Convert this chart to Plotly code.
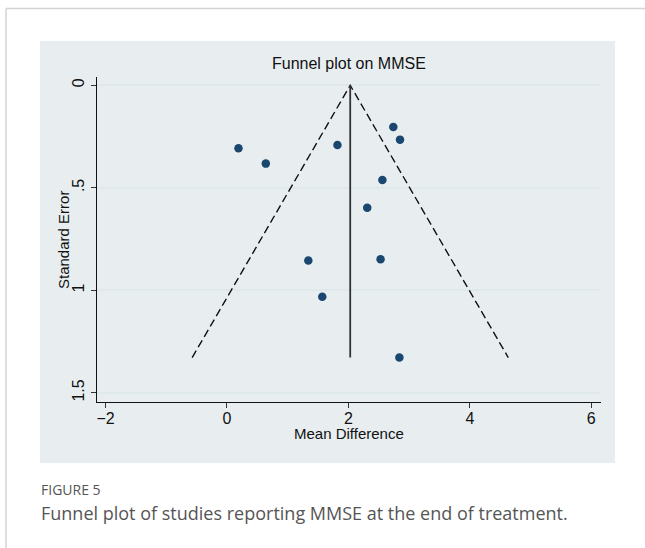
import plotly.graph_objects as go

# Study-level effects (mean difference in MMSE) and their standard errors
mean_diff = [2.74, 2.85, 1.82, 0.19, 0.64, 2.56, 2.31, 1.34, 2.53, 1.57, 2.84]
std_err = [0.203, 0.265, 0.291, 0.307, 0.382, 0.462, 0.597, 0.855, 0.848, 1.031, 1.328]
pooled_md = 2.03

x_ticks = [-2, 0, 2, 4, 6]
y_ticks = [0, 0.5, 1, 1.5]
y_tick_text = ["0", ".5", "1", "1.5"]

W, H = 645, 548
NAVY = "#1a476f"
PANEL = "#e8eef0"
GRID = "#dfe9ec"
FONT = "Liberation Sans, Arial, sans-serif"
CAPTION_FONT = "Open Sans, Noto Sans, sans-serif"


def px(x):
    return x / W


def py(y):
    return 1 - y / H


se_max = max(std_err)
z = 1.96

fig = go.Figure()

# pseudo 95% confidence limits
fig.add_trace(go.Scatter(
    x=[pooled_md - z * se_max, pooled_md, pooled_md + z * se_max],
    y=[se_max, 0, se_max],
    mode="lines",
    line=dict(color="#111111", width=1.4, dash="8px,4px"),
    hoverinfo="skip",
))

# pooled estimate
fig.add_trace(go.Scatter(
    x=[pooled_md, pooled_md],
    y=[0, se_max],
    mode="lines",
    line=dict(color="#333333", width=1.8),
    hoverinfo="skip",
))

# individual studies
fig.add_trace(go.Scatter(
    x=mean_diff,
    y=std_err,
    mode="markers",
    marker=dict(color=NAVY, size=8.5),
))

fig.update_layout(
    width=W,
    height=H,
    margin=dict(l=0, r=0, t=0, b=0),
    paper_bgcolor="white",
    plot_bgcolor="white",
    showlegend=False,
    font=dict(family=FONT, color="#111111"),
    xaxis=dict(
        domain=[px(97), px(601)],
        range=[-2.14, 6.16],
        tickvals=x_ticks,
        ticks="outside",
        ticklen=5,
        tickwidth=1,
        tickcolor="#333333",
        ticklabelstandoff=-4,
        showgrid=False,
        zeroline=False,
        showline=True,
        linecolor="#111111",
        linewidth=1.3,
        tickfont=dict(size=16, family=FONT, color="#111111"),
    ),
    yaxis=dict(
        domain=[py(402.3), py(77.3)],
        range=[1.546, -0.039],
        tickvals=y_ticks,
        ticktext=y_tick_text,
        tickangle=-90,
        ticks="outside",
        ticklen=5,
        tickwidth=1,
        tickcolor="#333333",
        showgrid=True,
        gridcolor=GRID,
        gridwidth=1.5,
        zeroline=False,
        showline=True,
        linecolor="#111111",
        linewidth=1.3,
        tickfont=dict(size=16, family=FONT, color="#111111"),
    ),
    shapes=[
        # page frame
        dict(type="line", xref="paper", yref="paper", x0=px(6), x1=1, y0=py(8.5), y1=py(8.5),
             line=dict(color="#d4d4d4", width=1.5)),
        dict(type="line", xref="paper", yref="paper", x0=px(6), x1=px(6), y0=py(8.5), y1=0,
             line=dict(color="#d4d4d4", width=1.5)),
        # graph region
        dict(type="rect", xref="paper", yref="paper", x0=px(40), x1=px(615), y0=py(463), y1=py(41),
             fillcolor=PANEL, line=dict(width=0), layer="below"),
    ],
    annotations=[
        dict(text="Funnel plot on MMSE", x=px(349), y=py(64), xref="paper", yref="paper",
             showarrow=False, xanchor="center", yanchor="middle",
             font=dict(size=16, family=FONT, color="#111111")),
        dict(text="Mean Difference", x=px(349), y=py(433), xref="paper", yref="paper",
             showarrow=False, xanchor="center", yanchor="middle",
             font=dict(size=15, family=FONT, color="#111111")),
        dict(text="Standard Error", x=px(63), y=py(240), xref="paper", yref="paper",
             showarrow=False, xanchor="center", yanchor="middle", textangle=-90,
             font=dict(size=15, family=FONT, color="#111111")),
        dict(text="FIGURE 5", x=px(39), y=py(489), xref="paper", yref="paper",
             showarrow=False, xanchor="left", yanchor="middle",
             font=dict(size=14, family=CAPTION_FONT, color="#555555")),
        dict(text="Funnel plot of studies reporting MMSE at the end of treatment.",
             x=px(39), y=py(513), xref="paper", yref="paper",
             showarrow=False, xanchor="left", yanchor="middle",
             font=dict(size=18, family=CAPTION_FONT, color="#555555")),
    ],
)

fig.write_html("out.html")
